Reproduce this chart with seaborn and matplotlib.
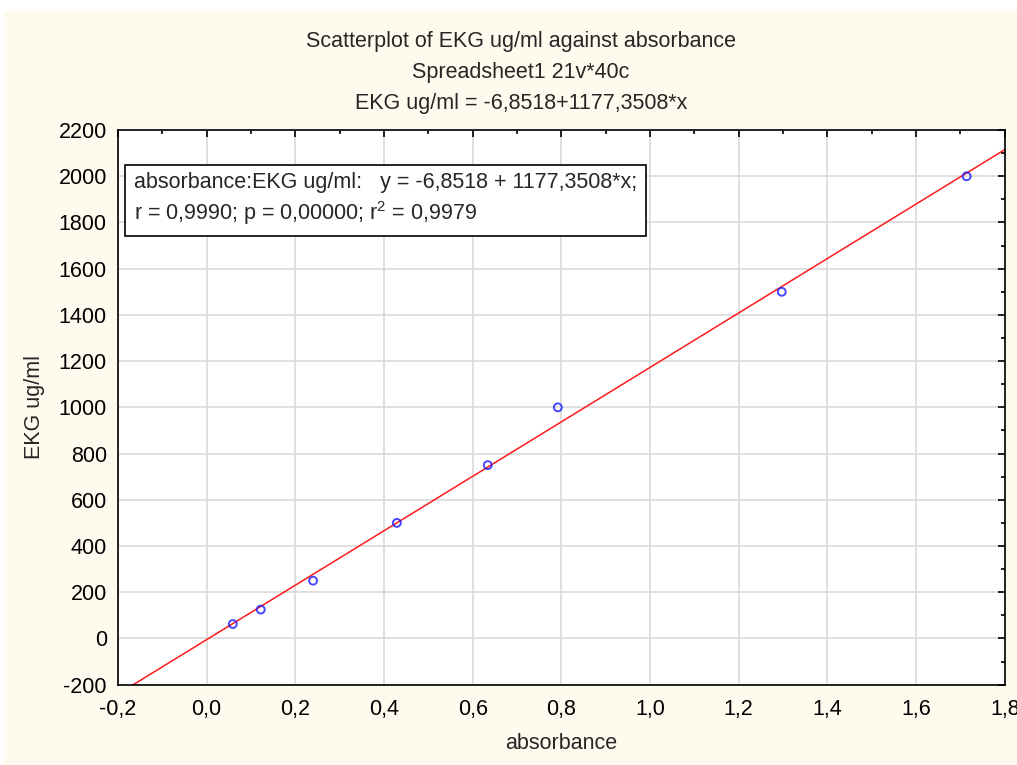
import numpy as np
import pandas as pd
import matplotlib
matplotlib.use("Agg")
import matplotlib.pyplot as plt
from matplotlib.ticker import MultipleLocator, FuncFormatter
from matplotlib.patches import Rectangle
import seaborn as sns

# values
absorbance = [0.059, 0.122, 0.240, 0.429, 0.634, 0.792, 1.297, 1.714]
ekg = [62.5, 125, 250, 500, 750, 1000, 1500, 2000]
titles = ["Scatterplot of EKG ug/ml against absorbance",
          "Spreadsheet1 21v*40c",
          "EKG ug/ml = -6,8518+1177,3508*x"]
box_text = ("absorbance:EKG ug/ml:   y = -6,8518 + 1177,3508*x;\n"
            "r = 0,9990; p = 0,00000; r$^2$ = 0,9979")

df = pd.DataFrame({"absorbance": absorbance, "EKG ug/ml": ekg})

sns.set_style("white")
plt.rcParams["font.family"] = ["Liberation Sans", "DejaVu Sans"]
plt.rcParams["mathtext.fontset"] = "custom"
plt.rcParams["mathtext.rm"] = "Liberation Sans"
plt.rcParams["axes.unicode_minus"] = False

fs = 15.5
cream = "#fffaee"
fig = plt.figure(figsize=(10.17, 7.65), dpi=100, facecolor="white")
fig.patches.append(Rectangle((0.004, 0.0), 0.996, 0.986, transform=fig.transFigure,
                             facecolor=cream, edgecolor="none", zorder=-10))
ax = fig.add_axes([0.116, 0.105, 0.872, 0.725])
ax.set_facecolor("white")
ax.set_xlim(-0.2, 1.8)
ax.set_ylim(-200, 2200)

sns.regplot(data=df, x="absorbance", y="EKG ug/ml", ax=ax, ci=None, truncate=False,
            scatter_kws=dict(s=32, facecolors="none", edgecolors="#1a1aff", linewidths=1.4, zorder=3),
            line_kws=dict(color="#ff1a1a", lw=1.1, zorder=2))
ax.set_xlim(-0.2, 1.8)
ax.set_ylim(-200, 2200)

comma = FuncFormatter(lambda v, p: f"{v:.1f}".replace(".", ","))
ax.xaxis.set_major_locator(MultipleLocator(0.2))
ax.xaxis.set_minor_locator(MultipleLocator(0.1))
ax.xaxis.set_major_formatter(comma)
ax.yaxis.set_major_locator(MultipleLocator(200))
ax.yaxis.set_minor_locator(MultipleLocator(100))
ax.grid(True, which="major", color="#d9d9d9", lw=1.2)
ax.set_axisbelow(True)
ax.tick_params(which="both", direction="in", top=True, right=True, colors="black",
               labelsize=fs)
ax.tick_params(axis="y", pad=8)
ax.tick_params(axis="x", pad=10)
ax.tick_params(which="major", length=5, width=1.2)
ax.tick_params(which="minor", length=3, width=1.2)
for s in ax.spines.values():
    s.set_color("black")
    s.set_linewidth(1.2)

ax.set_xlabel("absorbance", fontsize=fs, labelpad=10)
ax.set_ylabel("EKG ug/ml", fontsize=fs, labelpad=10)

for i, t in enumerate(titles):
    fig.text(0.512, 0.946 - i * 0.0405, t, ha="center", va="center", fontsize=fs)

ax.text(0.018, 0.875, box_text, transform=ax.transAxes, fontsize=fs, va="center", ha="left",
        linespacing=1.3,
        bbox=dict(boxstyle="square,pad=0.4", facecolor="white", edgecolor="black", lw=1.2))

fig.savefig("out.png", dpi=100, facecolor=fig.get_facecolor())
